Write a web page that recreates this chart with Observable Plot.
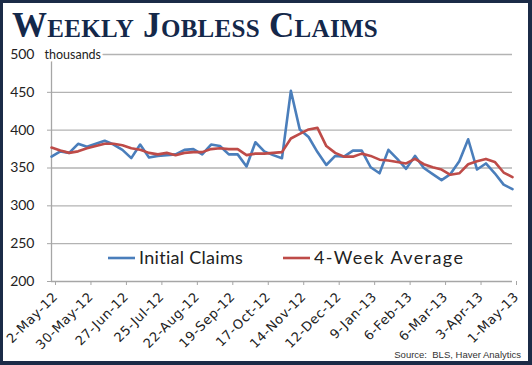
<!DOCTYPE html>
<html>
<head>
<meta charset="utf-8">
<script src="https://cdn.jsdelivr.net/npm/d3@7"></script>
<script src="https://cdn.jsdelivr.net/npm/@observablehq/plot@0.6"></script>
<style>
  html, body { margin: 0; padding: 0; background: #fff; }
  #wrap { position: relative; width: 532px; height: 365px; overflow: hidden; background: #fff; }
  #frame { position: absolute; left: 0; top: 0; width: 532px; height: 365px; box-sizing: border-box;
           border: 3px solid #1b2b47; border-right-width: 4px; border-bottom-width: 4px; pointer-events: none; }
  #title { position: absolute; left: 12px; top: 6px; font-family: "Liberation Serif", "DejaVu Serif", serif;
           font-weight: bold; font-variant: small-caps; font-size: 35px; color: #14284a; white-space: nowrap; letter-spacing: 0.3px; }
  #source { position: absolute; right: 11px; top: 349px; font-family: "Liberation Sans", sans-serif;
            font-size: 9.5px; color: #333; white-space: pre; }
  #legend { position: absolute; left: 108px; top: 246px; font-family: "Lato", "Open Sans", sans-serif;
            font-size: 18px; color: #222; white-space: nowrap; }
  #legend span.item { position: absolute; top: 0; display: flex; align-items: center; }
  #legend svg { margin-right: 3px; }
  #chart { position: absolute; left: 0; top: 0; }
</style>
</head>
<body>
<div id="wrap">
  <div id="chart"></div>
  <div id="title">Weekly Jobless Claims</div>
  <div id="legend"></div>
  <div id="source">Source:  BLS, Haver Analytics</div>
  <div id="frame"></div>
</div>
<script>
// Weekly data, 2-May-12 through 1-May-13 (thousands)
const startDate = "2012-05-02";
const initialClaims = [365,372,370,382,378,382,386,381,374,363,381,364,366,367,368,374,375,368,381,379,368,368,352,384,372,367,
  363,452,401,391,371,354,366,365,373,373,351,343,374,362,349,366,350,342,334,342,359,388,348,356,343,328,322];
const fourWeekAverage = [377,373,370,372,376,379,382,382,380,376,374,370,368,370,367,370,371,371,375,376,375,375,367,369,369,370,
  371,389,395,401,403,379,370,365,365,369,366,361,360,358,356,362,355,351,348,341,343,355,359,362,358,344,338];
const tickLabels = ["2-May-12","30-May-12","27-Jun-12","25-Jul-12","22-Aug-12","19-Sep-12","17-Oct-12","14-Nov-12",
  "12-Dec-12","9-Jan-13","6-Feb-13","6-Mar-13","3-Apr-13","1-May-13"];
const yTicks = [200,250,300,350,400,450,500];
const seriesNames = ["Initial Claims","4-Week Average"];
const seriesColors = ["#4a7ebb","#be4b48"];

const parse = d3.utcParse("%Y-%m-%d");
const t0 = parse(startDate);
const dates = initialClaims.map((_, i) => d3.utcDay.offset(t0, 7 * i));
const rows = [];
dates.forEach((d, i) => {
  rows.push({date: d, value: initialClaims[i], series: seriesNames[0]});
  rows.push({date: d, value: fourWeekAverage[i], series: seriesNames[1]});
});
const fmt = d3.utcFormat("%-d-%b-%y");
const tickDates = dates.filter(d => tickLabels.includes(fmt(d)));

const chart = Plot.plot({
  width: 532,
  height: 365,
  marginLeft: 51,
  marginRight: 20,
  marginTop: 54,
  marginBottom: 84,
  style: {background: "transparent", fontFamily: "Lato, 'Open Sans', sans-serif", color: "#222"},
  x: {type: "utc", domain: [dates[0], dates[dates.length - 1]]},
  y: {domain: [200, 500]},
  color: {domain: seriesNames, range: seriesColors},
  marks: [
    Plot.ruleY(yTicks.filter(v => v > 200), {stroke: "#b3b3b3", strokeWidth: 1.3}),
    Plot.ruleY([200], {stroke: "#a6a6a6", strokeWidth: 1.3}),
    Plot.ruleX([dates[0]], {stroke: "#a6a6a6", strokeWidth: 1.3}),
    Plot.axisY({ticks: yTicks, tickSize: 4, tickPadding: 13, fontSize: 14, stroke: "#a6a6a6", label: null, fill: "#222"}),
    Plot.axisX({ticks: tickDates, tickFormat: fmt, tickSize: 4, tickPadding: 9, tickRotate: -45, fontSize: 13,
      fontFamily: "'DejaVu Sans', sans-serif", stroke: "#a6a6a6", label: null, fill: "#222", dx: 4}),
    Plot.text(["thousands"], {frameAnchor: "top-left", dx: -7, lineAnchor: "middle", fontSize: 12.5, textAnchor: "start",
      fill: "#222", stroke: "white", strokeWidth: 5}),
    Plot.line(rows, {x: "date", y: "value", z: "series", stroke: "series", strokeWidth: 2.6, curve: "linear"})
  ]
});
document.getElementById("chart").appendChild(chart);
chart.querySelectorAll("[aria-label='x-axis tick label'] text").forEach(t => t.setAttribute("letter-spacing", "0.6"));

// legend
const legend = document.getElementById("legend");
const offsets = [0, 175];
const spacing = ["0.3px", "1.4px"];
seriesNames.forEach((name, i) => {
  const item = document.createElement("span");
  item.className = "item";
  item.style.left = offsets[i] + "px";
  item.innerHTML = `<svg width="28" height="20"><line x1="0" x2="27" y1="11" y2="11" stroke="${seriesColors[i]}" stroke-width="2.6"/></svg><span style="letter-spacing:${spacing[i]}">${name}</span>`;
  legend.appendChild(item);
});
</script>
</body>
</html>
